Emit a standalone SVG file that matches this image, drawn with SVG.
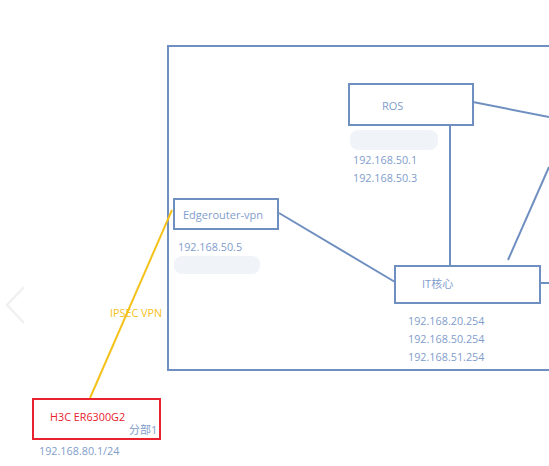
<svg xmlns="http://www.w3.org/2000/svg" width="549" height="466" viewBox="0 0 549 466">
<style>
.box{fill:none;stroke:#6f8fc0;stroke-width:2}
.ln{fill:none;stroke:#6f8fc0;stroke-width:2}
.t{font-family:"Open Sans","Noto Sans CJK SC",sans-serif;font-size:11px;fill:#7f9dcc}
.ip{font-family:"Open Sans","Noto Sans CJK SC",sans-serif;font-size:10.8px;fill:#7f9dcc}
.blur{fill:#f0f3f7}
</style>
<rect width="549" height="466" fill="#ffffff"/>
<polyline points="24,287 7,305 24,323" fill="none" stroke="#f0f0f0" stroke-width="2.5"/>
<g id="container"><rect x="168" y="46" width="400" height="324" class="box"/></g>
<g id="connectors">
<line x1="473" y1="102" x2="549" y2="117" class="ln"/>
<line x1="450" y1="125" x2="450" y2="267" class="ln"/>
<line x1="279" y1="213" x2="395" y2="282" class="ln"/>
<line x1="508" y1="260" x2="549" y2="167" class="ln"/>
<line x1="541" y1="283" x2="549" y2="283" class="ln"/>
<line x1="172" y1="210" x2="90" y2="398" stroke="#f5c21b" stroke-width="2"/>
<text x="110" y="317" font-family="'Open Sans',sans-serif" font-size="10.8px" fill="#f5c21b">IPSEC VPN</text>
</g>
<g id="ros">
<rect x="349" y="84" width="124" height="41" class="box"/>
<text x="382" y="110" class="t">ROS</text>
<rect x="350" y="130" width="88" height="20" rx="8" class="blur"/>
<text x="353" y="164" class="ip">192.168.50.1</text>
<text x="353" y="182" class="ip">192.168.50.3</text>
</g>
<g id="edgerouter">
<rect x="174" y="199" width="104" height="30" class="box"/>
<text x="183" y="219" class="t">Edgerouter-vpn</text>
<text x="178" y="251" class="ip">192.168.50.5</text>
<rect x="174" y="256" width="86" height="18" rx="8" class="blur"/>
</g>
<g id="itcore">
<rect x="395" y="266" width="145" height="37" class="box"/>
<text x="422" y="288" class="t">IT核心</text>
<text x="408" y="325" class="ip">192.168.20.254</text>
<text x="408" y="343" class="ip">192.168.50.254</text>
<text x="408" y="361" class="ip">192.168.51.254</text>
</g>
<g id="h3c">
<rect x="33" y="399" width="127" height="40" fill="none" stroke="#e8222e" stroke-width="2"/>
<text x="50" y="421" font-family="'Open Sans',sans-serif" font-size="10.8px" fill="#e8222e">H3C ER6300G2</text>
<text x="129" y="434" class="t">分部1</text>
<text x="39" y="455" class="ip">192.168.80.1/24</text>
</g>
</svg>
